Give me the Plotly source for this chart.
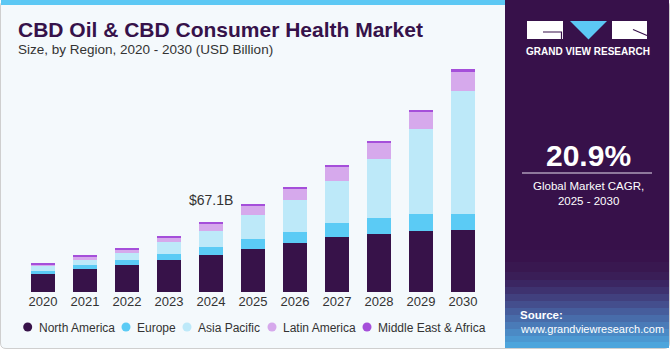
import plotly.graph_objects as go

# ---------------- data ----------------
years = ["2020", "2021", "2022", "2023", "2024", "2025", "2026", "2027", "2028", "2029", "2030"]
regions = ["North America", "Europe", "Asia Pacific", "Latin America", "Middle East & Africa"]
north_america = [17.3, 22.2, 26.3, 30.8, 35.6, 41.1, 46.9, 52.7, 56.1, 58.5, 59.4]
europe = [2.9, 3.5, 4.2, 5.5, 7.4, 10.3, 11.3, 14.2, 15.4, 16.4, 16.1]
asia_pacific = [4.5, 5.1, 6.7, 11.6, 15.7, 23.1, 30.8, 39.8, 56.8, 81.9, 117.8]
latin_america = [2.2, 3.5, 4.2, 4.2, 7.6, 8.7, 10.9, 13.8, 15.4, 16.4, 19.0]
middle_east_africa = [1.3, 1.0, 1.3, 1.3, 0.8, 1.0, 1.3, 1.9, 1.9, 2.2, 2.6]
highlight_year = "2024"
highlight_label = "$67.1B"
cagr_value = "20.9%"
cagr_text = "Global Market CAGR,<br>2025 - 2030"

series = [north_america, europe, asia_pacific, latin_america, middle_east_africa]
colors = ["#371249", "#5BCBF5", "#BDE9F9", "#D6A9EC", "#A54FDA"]

# ---------------- layout geometry (pixels) ----------------
FW, FH = 670, 350
L, R_EDGE, T, B_EDGE = 22, 484, 60, 292
W, H = R_EDGE - L, B_EDGE - T


def px(x):
    return (x - L) / W


def py(y):
    return (B_EDGE - y) / H


fig = go.Figure()
for name, vals, col in zip(regions, series, colors):
    fig.add_trace(go.Bar(x=years, y=vals, name=name, marker=dict(color=col, line=dict(width=0)),
                         showlegend=False))

totals = [sum(v) for v in zip(*series)]
hi_idx = years.index(highlight_year)

shapes = []
annotations = []

# card background
shapes.append(dict(type="path", xref="paper", yref="paper", layer="below",
                   path=(f"M {px(6)},{py(0.5)} L {px(664)},{py(0.5)} Q {px(669.5)},{py(0.5)} {px(669.5)},{py(6)} "
                         f"L {px(669.5)},{py(343)} Q {px(669.5)},{py(348.5)} {px(664)},{py(348.5)} "
                         f"L {px(6)},{py(348.5)} Q {px(0.5)},{py(348.5)} {px(0.5)},{py(343)} "
                         f"L {px(0.5)},{py(6)} Q {px(0.5)},{py(0.5)} {px(6)},{py(0.5)} Z"),
                   fillcolor="#F4F9FC", line=dict(color="#CFCFCF", width=1)))
# top cyan stripe
shapes.append(dict(type="rect", xref="paper", yref="paper", layer="below",
                   x0=px(1), x1=px(505), y0=py(0), y1=py(5), fillcolor="#5CC8F4", line=dict(width=0)))
# right panel
shapes.append(dict(type="rect", xref="paper", yref="paper", layer="below",
                   x0=px(505), x1=px(669), y0=py(0), y1=py(348), fillcolor="#37114A", line=dict(width=0)))
# panel bottom gradient
grad = [(250, "#38134C"), (262, "#391850"), (272, "#3A1E57"), (280, "#3B2662"), (287, "#3E326F"),
        (294, "#41407E"), (301, "#444E8D"), (308, "#465D9C"), (315, "#486CAA"), (322, "#4A7BB8"),
        (329, "#4B8AC5"), (336, "#4C98D1"), (342, "#4DA5DC")]
for i, (y0, c) in enumerate(grad):
    y1 = grad[i + 1][0] if i + 1 < len(grad) else 348
    shapes.append(dict(type="rect", xref="paper", yref="paper", layer="below",
                       x0=px(505), x1=px(669), y0=py(y0), y1=py(y1), fillcolor=c, line=dict(width=0)))

# logo
shapes.append(dict(type="rect", xref="paper", yref="paper", x0=px(527), x1=px(563), y0=py(21), y1=py(39),
                   fillcolor="white", line=dict(width=0)))
shapes.append(dict(type="path", xref="paper", yref="paper",
                   path=f"M {px(543)},{py(32)} L {px(561.5)},{py(32)} L {px(561.5)},{py(39)}",
                   line=dict(color="#37114A", width=1.2)))
shapes.append(dict(type="path", xref="paper", yref="paper",
                   path=f"M {px(570)},{py(21)} L {px(607)},{py(21)} L {px(588.5)},{py(39.5)} Z",
                   fillcolor="#5CC8F4", line=dict(width=0)))
shapes.append(dict(type="rect", xref="paper", yref="paper", x0=px(612), x1=px(647), y0=py(21), y1=py(39),
                   fillcolor="white", line=dict(color="white", width=0)))
shapes.append(dict(type="path", xref="paper", yref="paper",
                   path=f"M {px(633)},{py(29.5)} L {px(647)},{py(35.5)}",
                   line=dict(color="#37114A", width=1.2)))
annotations.append(dict(xref="paper", yref="paper", x=px(587.5), y=py(51), text="<b>GRAND VIEW RESEARCH</b>",
                        showarrow=False, font=dict(family="Liberation Sans, Arial", size=10, color="white"),
                        xanchor="center", yanchor="middle"))

# CAGR block
annotations.append(dict(xref="paper", yref="paper", x=px(588), y=py(155), text=f"<b>{cagr_value}</b>",
                        showarrow=False, font=dict(family="Liberation Sans, Arial", size=30, color="white"),
                        xanchor="center", yanchor="middle"))
shapes.append(dict(type="line", xref="paper", yref="paper", x0=px(522), x1=px(652), y0=py(173), y1=py(173),
                   line=dict(color="#E8E0EE", width=1)))
annotations.append(dict(xref="paper", yref="paper", x=px(588), y=py(193), text=cagr_text,
                        showarrow=False, font=dict(family="Liberation Sans, Arial", size=11.5, color="white"),
                        xanchor="center", yanchor="middle", align="center"))

# source
annotations.append(dict(xref="paper", yref="paper", x=px(518), y=py(315), text="<b>Source:</b>",
                        showarrow=False, font=dict(family="Liberation Sans, Arial", size=11.5, color="white"),
                        xanchor="left", yanchor="middle"))
annotations.append(dict(xref="paper", yref="paper", x=px(518), y=py(329), text="www.grandviewresearch.com",
                        showarrow=False, font=dict(family="Liberation Sans, Arial", size=11, color="white"),
                        xanchor="left", yanchor="middle"))

# title
annotations.append(dict(xref="paper", yref="paper", x=px(16), y=py(29),
                        text="<b>CBD Oil & CBD Consumer Health Market</b>",
                        showarrow=False, font=dict(family="Liberation Sans, Arial", size=21, color="#36124A"),
                        xanchor="left", yanchor="middle"))
annotations.append(dict(xref="paper", yref="paper", x=px(16), y=py(50),
                        text="Size, by Region, 2020 - 2030 (USD Billion)",
                        showarrow=False, font=dict(family="Liberation Sans, Arial", size=13.5, color="#333333"),
                        xanchor="left", yanchor="middle"))

# highlight label (category index used for x)
annotations.append(dict(x=hi_idx, y=totals[hi_idx], xref="x", yref="y", text=highlight_label,
                        showarrow=False, yanchor="bottom", yshift=12,
                        font=dict(family="Liberation Sans, Arial", size=14, color="#333333")))

# legend (manual, circles)
legend_x = [27.7, 126, 187, 272, 367]
for name, col, lx in zip(regions, colors, legend_x):
    shapes.append(dict(type="circle", xref="paper", yref="paper",
                       x0=px(lx - 4.5), x1=px(lx + 4.5), y0=py(327 - 4.5), y1=py(327 + 4.5),
                       fillcolor=col, line=dict(width=0)))
    annotations.append(dict(xref="paper", yref="paper", x=px(lx + 9), y=py(327.5), text=name,
                            showarrow=False, xanchor="left", yanchor="middle",
                            font=dict(family="Liberation Sans, Arial", size=12, color="#333333")))

ymax = H * 0.963
fig.update_layout(
    width=FW, height=FH,
    margin=dict(l=L, r=FW - R_EDGE, t=T, b=FH - B_EDGE),
    barmode="stack", bargap=0.43,
    paper_bgcolor="white", plot_bgcolor="rgba(0,0,0,0)",
    shapes=shapes, annotations=annotations,
    xaxis=dict(type="category", range=[-0.5, len(years) - 0.5], showgrid=False, showline=False,
               ticks="", tickfont=dict(family="Liberation Sans, Arial", size=13, color="#333333"),
               fixedrange=True),
    yaxis=dict(range=[0, ymax], visible=False, showgrid=False, fixedrange=True),
    showlegend=False,
    font=dict(family="Liberation Sans, Arial"),
)

fig.write_html("out.html", config={"displayModeBar": False})
